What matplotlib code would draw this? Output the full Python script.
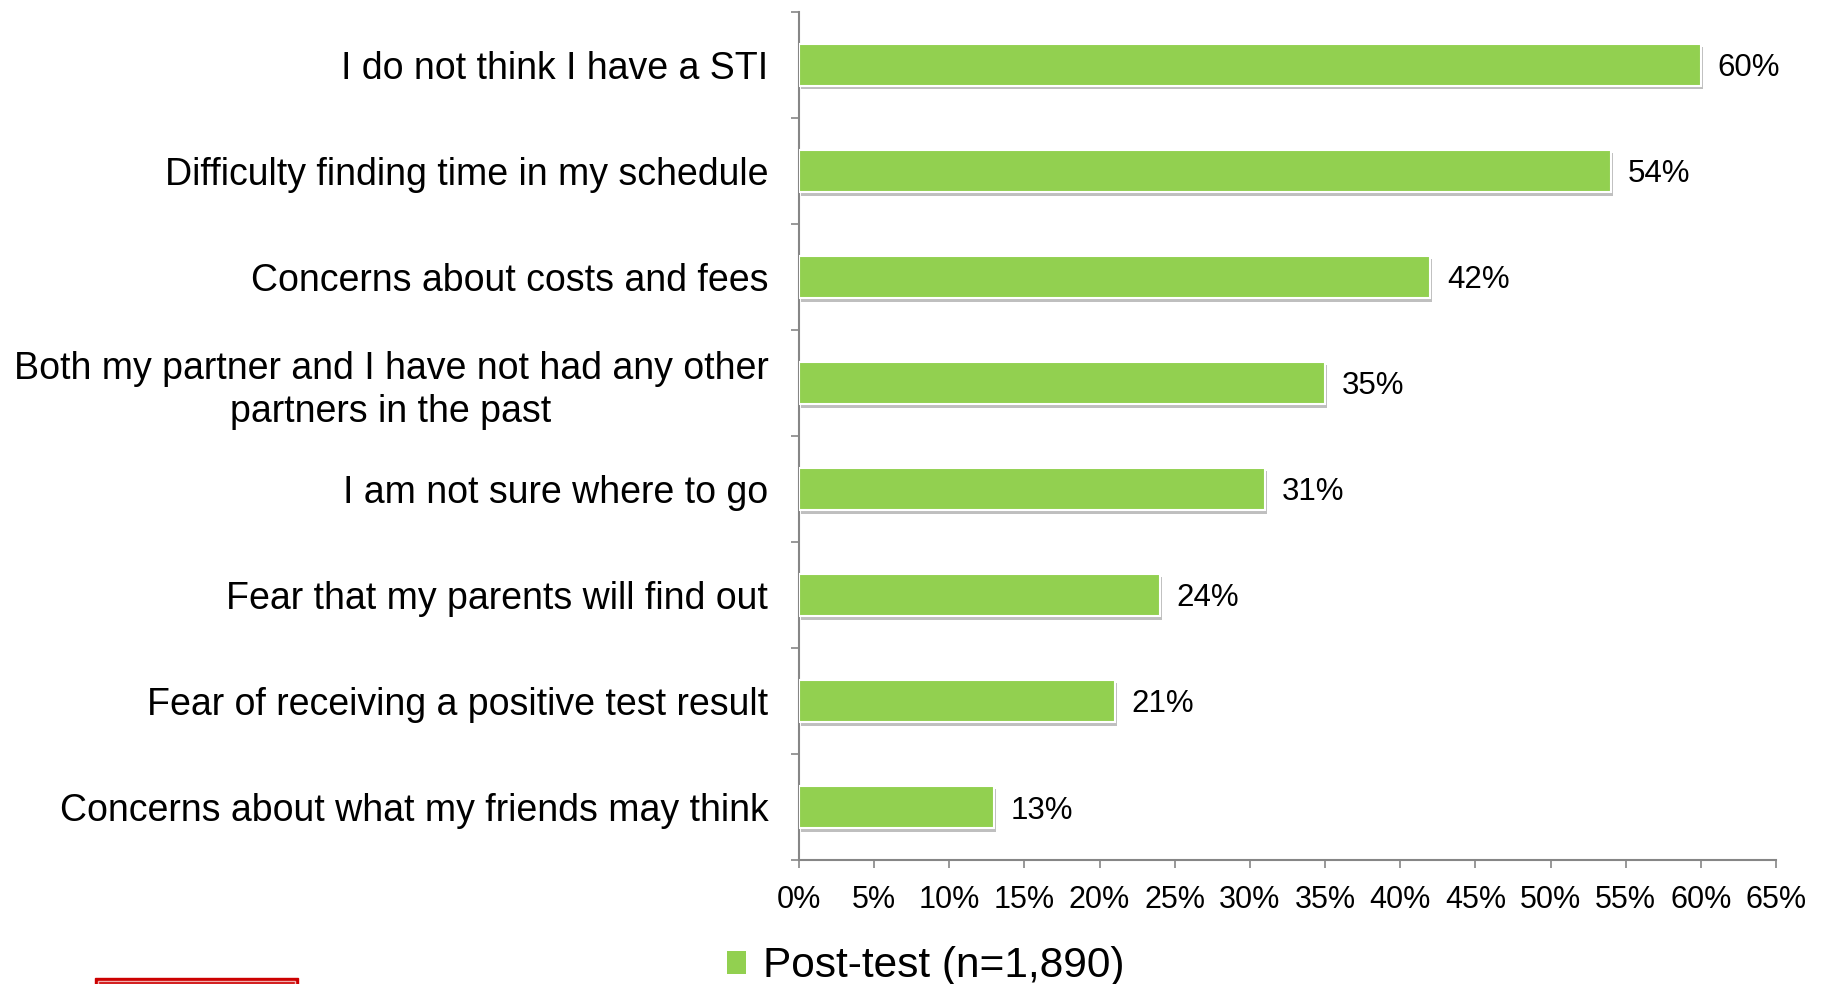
import matplotlib
matplotlib.use("Agg")
import matplotlib.pyplot as plt
import matplotlib.patheffects as pe
from matplotlib.patches import Patch, Rectangle

plt.rcParams["font.family"] = ["Liberation Sans", "DejaVu Sans"]

categories = [
    "I do not think I have a STI",
    "Difficulty finding time in my schedule",
    "Concerns about costs and fees",
    "Both my partner and I have not had any other\npartners in the past",
    "I am not sure where to go",
    "Fear that my parents will find out",
    "Fear of receiving a positive test result",
    "Concerns about what my friends may think",
]
values = [60, 54, 42, 35, 31, 24, 21, 13]
series_name = "Post-test (n=1,890)"
xticks = list(range(0, 70, 5))

GREEN = "#92D050"
AXIS = "#868686"

fig = plt.figure(figsize=(18.28, 9.84), dpi=100)
ax = fig.add_axes([0.437, 0.126, 0.5346, 0.862])

n = len(categories)
ypos = list(range(n))
bars = ax.barh(ypos, values, height=0.4, color=GREEN, edgecolor="white",
               linewidth=1.5, zorder=3)
for b in bars:
    b.set_path_effects([pe.SimplePatchShadow(offset=(1.5, -2.5), shadow_rgbFace="#000000", alpha=0.25),
                        pe.Normal()])

for y, v in zip(ypos, values):
    ax.annotate(f"{v}%", (v, y), xytext=(12, 0), textcoords="offset points",
                ha="left", va="center_baseline", fontsize=22.5, color="black")

ax.set_ylim(n - 0.5, -0.5)
ax.set_xlim(0, 65)
ax.set_xticks(xticks)
ax.set_xticklabels([f"{t}%" for t in xticks], fontsize=22)

ax.set_yticks(ypos)
ax.set_yticklabels(categories, fontsize=27, multialignment="center", linespacing=1.25)
ax.set_yticks([i - 0.5 for i in range(n + 1)], minor=True)
ax.tick_params(axis="y", which="major", length=0, pad=22)
ax.tick_params(axis="y", which="minor", length=6, color=AXIS, width=1.2)
ax.tick_params(axis="x", length=6, color=AXIS, width=1.2, pad=12)

for s in ["top", "right"]:
    ax.spines[s].set_visible(False)
for s in ["left", "bottom"]:
    ax.spines[s].set_color(AXIS)
    ax.spines[s].set_linewidth(1.5)

fig.legend(handles=[Patch(facecolor=GREEN, edgecolor="none", label=series_name)],
           loc="center left", bbox_to_anchor=(0.3975, 0.018), frameon=False,
           fontsize=30.5, handlelength=0.45, handleheight=0.45, handletextpad=0.4,
           borderaxespad=0, borderpad=0)

# red logo box peeking in at the bottom left
fig.patches.append(Rectangle((95 / 1828, 0), 203 / 1828, 6 / 984, transform=fig.transFigure,
                             facecolor="#CC0000", edgecolor="#CC0000", linewidth=1))
fig.patches.append(Rectangle((98 / 1828, 0), 197 / 1828, 3 / 984, transform=fig.transFigure,
                             facecolor="#CC0000", edgecolor="#F0B0B0", linewidth=1))

fig.savefig("out.png", dpi=100)
